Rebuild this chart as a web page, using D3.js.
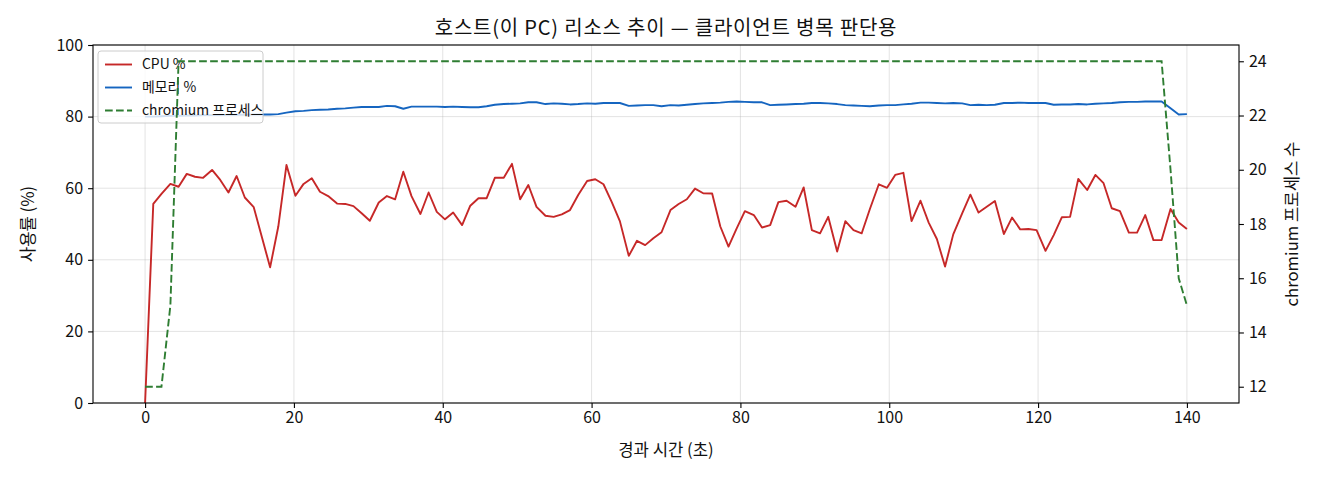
<!DOCTYPE html>
<html>
<head>
<meta charset="utf-8">
<script src="https://cdn.jsdelivr.net/npm/d3@7"></script>
<style>
  body { margin: 0; background: #fff; }
  svg text { font-family: "Noto Sans CJK KR", "Noto Sans", sans-serif; fill: #111; }
</style>
</head>
<body>
<div id="chart"></div>
<script>
// elapsed seconds per sample (10 per row)
let elapsed = [
  0, 1.1, 2.2, 3.4, 4.5, 5.6, 6.7, 7.8, 9.0, 10.1,
  11.2, 12.3, 13.4, 14.6, 15.7, 16.8, 17.9, 19.0, 20.2, 21.3,
  22.4, 23.5, 24.6, 25.8, 26.9, 28.0, 29.1, 30.2, 31.4, 32.5,
  33.6, 34.7, 35.8, 37.0, 38.1, 39.2, 40.3, 41.4, 42.6, 43.7,
  44.8, 45.9, 47.0, 48.2, 49.3, 50.4, 51.5, 52.6, 53.8, 54.9,
  56.0, 57.1, 58.2, 59.4, 60.5, 61.6, 62.7, 63.8, 65.0, 66.1,
  67.2, 68.3, 69.4, 70.6, 71.7, 72.8, 73.9, 75.0, 76.2, 77.3,
  78.4, 79.5, 80.6, 81.8, 82.9, 84.0, 85.1, 86.2, 87.4, 88.5,
  89.6, 90.7, 91.8, 93.0, 94.1, 95.2, 96.3, 97.4, 98.6, 99.7,
  100.8, 101.9, 103.0, 104.2, 105.3, 106.4, 107.5, 108.6, 109.8, 110.9,
  112.0, 113.1, 114.2, 115.4, 116.5, 117.6, 118.7, 119.8, 121.0, 122.1,
  123.2, 124.3, 125.4, 126.6, 127.7, 128.8, 129.9, 131.0, 132.2, 133.3,
  134.4, 135.5, 136.6, 137.8, 138.9, 140.0]

let cpuPct = [
  0, 55.6, 58.4, 61.2, 60.4, 64.0, 63.2, 62.9, 65.1, 62.3,
  58.8, 63.4, 57.4, 54.7, 46.3, 37.9, 49.3, 66.5, 57.9, 61.2,
  62.8, 59.0, 57.8, 55.7, 55.6, 55.0, 53.0, 50.9, 56.0, 57.8,
  56.9, 64.6, 57.8, 52.8, 58.8, 53.4, 51.3, 53.2, 49.7, 55.1,
  57.2, 57.2, 62.9, 62.9, 66.8, 56.9, 60.9, 54.8, 52.3, 52.0,
  52.7, 53.9, 58.1, 62.0, 62.5, 61.1, 56.2, 50.8, 41.1, 45.3,
  44.1, 46.0, 47.7, 53.9, 55.6, 56.9, 59.9, 58.6, 58.5, 49.3,
  43.7, 48.8, 53.6, 52.5, 49.0, 49.7, 56.1, 56.5, 54.8, 60.2,
  48.3, 47.4, 52.0, 42.3, 50.8, 48.3, 47.4, 54.2, 61.1, 60.1,
  63.7, 64.3, 50.8, 56.5, 50.4, 45.8, 38.1, 47.1, 53.0, 58.2,
  53.2, 54.8, 56.4, 47.2, 51.8, 48.5, 48.6, 48.3, 42.5, 46.9,
  51.9, 52.0, 62.6, 59.5, 63.7, 61.4, 54.4, 53.6, 47.6, 47.6,
  52.5, 45.5, 45.5, 54.2, 50.4, 48.6]

let memPct = [
  80.0, 80.0, 80.1, 80.2, 80.2, 80.3, 80.3, 80.4, 80.4, 80.4,
  80.5, 80.5, 80.5, 80.6, 80.6, 80.6, 80.7, 81.1, 81.5, 81.6,
  81.8, 81.9, 82.0, 82.2, 82.3, 82.5, 82.7, 82.7, 82.7, 83.0,
  82.9, 82.2, 82.8, 82.8, 82.8, 82.8, 82.7, 82.8, 82.7, 82.6,
  82.6, 82.9, 83.3, 83.5, 83.6, 83.7, 84.0, 84.0, 83.5, 83.7,
  83.6, 83.4, 83.5, 83.7, 83.6, 83.8, 83.8, 83.8, 83.0, 83.1,
  83.2, 83.2, 82.9, 83.2, 83.1, 83.3, 83.5, 83.7, 83.8, 83.9,
  84.1, 84.2, 84.1, 84.0, 84.0, 83.2, 83.3, 83.4, 83.5, 83.6,
  83.8, 83.8, 83.7, 83.5, 83.2, 83.1, 83.0, 82.9, 83.1, 83.2,
  83.2, 83.4, 83.6, 83.9, 83.9, 83.8, 83.7, 83.8, 83.7, 83.2,
  83.3, 83.2, 83.3, 83.8, 83.8, 83.9, 83.8, 83.8, 83.8, 83.3,
  83.4, 83.4, 83.5, 83.4, 83.6, 83.7, 83.8, 84.0, 84.1, 84.1,
  84.2, 84.2, 84.2, 82.3, 80.6, 80.7]

let chromiumProcs = [
  12, 12, 12, 15, 24, 24, 24, 24, 24, 24,
  24, 24, 24, 24, 24, 24, 24, 24, 24, 24,
  24, 24, 24, 24, 24, 24, 24, 24, 24, 24,
  24, 24, 24, 24, 24, 24, 24, 24, 24, 24,
  24, 24, 24, 24, 24, 24, 24, 24, 24, 24,
  24, 24, 24, 24, 24, 24, 24, 24, 24, 24,
  24, 24, 24, 24, 24, 24, 24, 24, 24, 24,
  24, 24, 24, 24, 24, 24, 24, 24, 24, 24,
  24, 24, 24, 24, 24, 24, 24, 24, 24, 24,
  24, 24, 24, 24, 24, 24, 24, 24, 24, 24,
  24, 24, 24, 24, 24, 24, 24, 24, 24, 24,
  24, 24, 24, 24, 24, 24, 24, 24, 24, 24,
  24, 24, 24, 20, 16, 15]

let seriesNames = ['CPU %', '메모리 %', 'chromium 프로세스']
let xTicks = [0, 20, 40, 60, 80, 100, 120, 140]
let leftTicks = [0, 20, 40, 60, 80, 100]
let rightTicks = [12, 14, 16, 18, 20, 22, 24]

let width = 1320,
  height = 480,
  margin = {top: 45, right: 81, bottom: 77, left: 93},
  plotW = width - margin.left - margin.right,
  plotH = height - margin.top - margin.bottom,
  tickLen = 4.9,
  colors = ['#c62828', '#1565c0', '#2e7d32']

// matplotlib style 5% padding
function padded(ext) {
  let p = (ext[1] - ext[0]) * 0.05
  return [ext[0] - p, ext[1] + p]
}

let x = d3.scaleLinear()
  .domain(padded(d3.extent(elapsed)))
  .range([margin.left, margin.left + plotW])

let yL = d3.scaleLinear()
  .domain([0, 100])
  .range([margin.top + plotH, margin.top])

let yR = d3.scaleLinear()
  .domain(padded(d3.extent(chromiumProcs)))
  .range([margin.top + plotH, margin.top])

let svg = d3.select('#chart').append('svg')
  .attr('width', width)
  .attr('height', height)

// grid
let grid = svg.append('g')
  .attr('stroke', '#b0b0b0')
  .attr('stroke-opacity', 0.35)
  .attr('stroke-width', 1)

grid.selectAll('.vgrid')
  .data(xTicks)
  .enter().append('line')
  .attr('x1', function (d) { return x(d) })
  .attr('x2', function (d) { return x(d) })
  .attr('y1', margin.top)
  .attr('y2', margin.top + plotH)

grid.selectAll('.hgrid')
  .data(leftTicks)
  .enter().append('line')
  .attr('x1', margin.left)
  .attr('x2', margin.left + plotW)
  .attr('y1', function (d) { return yL(d) })
  .attr('y2', function (d) { return yL(d) })

svg.append('defs').append('clipPath')
  .attr('id', 'plot-clip')
  .append('rect')
  .attr('x', margin.left)
  .attr('y', margin.top)
  .attr('width', plotW)
  .attr('height', plotH)

let lineL = d3.line()
  .x(function (d, i) { return x(elapsed[i]) })
  .y(function (d) { return yL(d) })

let lines = svg.append('g').attr('clip-path', 'url(#plot-clip)')

lines.selectAll('.left-line')
  .data([cpuPct, memPct])
  .enter().append('path')
  .attr('d', function (d) { return lineL(d) })
  .attr('fill', 'none')
  .attr('stroke', function (d, i) { return colors[i] })
  .attr('stroke-width', 1.9)
  .attr('stroke-linejoin', 'round')

// legend sits under the twin-axis line, like matplotlib
let legend = svg.append('g')
  .attr('transform', 'translate(98,51)')

legend.append('rect')
  .attr('width', 165)
  .attr('height', 72)
  .attr('rx', 3)
  .attr('fill', '#fff')
  .attr('fill-opacity', 0.8)
  .attr('stroke', '#cccccc')
  .attr('stroke-width', 1)

let legendItems = legend.selectAll('.legend-item')
  .data(seriesNames)
  .enter().append('g')
  .attr('transform', function (d, i) { return 'translate(0,' + (13.5 + i * 23) + ')' })

legendItems.append('line')
  .attr('x1', 7)
  .attr('x2', 34)
  .attr('stroke', function (d, i) { return colors[i] })
  .attr('stroke-width', 1.9)
  .attr('stroke-dasharray', function (d, i) { return i === 2 ? '7.7,3.3' : null })

legendItems.append('text')
  .text(function (d) { return d })
  .attr('x', 44)
  .attr('dy', '0.35em')
  .style('font-size', '13.9px')

let lineR = d3.line()
  .x(function (d, i) { return x(elapsed[i]) })
  .y(function (d) { return yR(d) })

svg.append('path')
  .attr('clip-path', 'url(#plot-clip)')
  .attr('d', lineR(chromiumProcs))
  .attr('fill', 'none')
  .attr('stroke', colors[2])
  .attr('stroke-width', 1.9)
  .attr('stroke-dasharray', '7.7,3.3')

// frame
svg.append('rect')
  .attr('x', margin.left)
  .attr('y', margin.top)
  .attr('width', plotW)
  .attr('height', plotH)
  .attr('fill', 'none')
  .attr('stroke', '#000')
  .attr('stroke-width', 1.1)

// axes
svg.append('g')
  .attr('transform', 'translate(0,' + (margin.top + plotH) + ')')
  .call(d3.axisBottom(x).tickValues(xTicks).tickSize(tickLen).tickPadding(4))

svg.append('g')
  .attr('transform', 'translate(' + margin.left + ',0)')
  .call(d3.axisLeft(yL).tickValues(leftTicks).tickSize(tickLen).tickPadding(5))

svg.append('g')
  .attr('transform', 'translate(' + (margin.left + plotW) + ',0)')
  .call(d3.axisRight(yR).tickValues(rightTicks).tickSize(tickLen).tickPadding(5))

svg.selectAll('.domain').remove()
svg.selectAll('.tick line').attr('stroke', '#000').attr('stroke-width', 1.1)
svg.selectAll('.tick text')
  .style('font-size', '16px')
  .style('font-family', '"Noto Sans CJK KR", "Noto Sans", sans-serif')
  .attr('fill', '#111')

// labels
svg.append('text')
  .text('호스트(이 PC) 리소스 추이 — 클라이언트 병목 판단용')
  .attr('x', margin.left + plotW / 2)
  .attr('y', 35)
  .attr('text-anchor', 'middle')
  .style('font-size', '20px')
  .style('letter-spacing', '0.8px')

svg.append('text')
  .text('경과 시간 (초)')
  .attr('x', margin.left + plotW / 2)
  .attr('y', 456)
  .attr('text-anchor', 'middle')
  .style('font-size', '16.7px')

svg.append('text')
  .text('사용률 (%)')
  .attr('transform', 'translate(28,' + (margin.top + plotH / 2) + ') rotate(-90)')
  .attr('text-anchor', 'middle')
  .attr('dy', '0.35em')
  .style('font-size', '16.7px')

svg.append('text')
  .text('chromium 프로세스 수')
  .attr('transform', 'translate(1292,' + (margin.top + plotH / 2) + ') rotate(-90)')
  .attr('text-anchor', 'middle')
  .attr('dy', '0.35em')
  .style('font-size', '16.7px')
</script>
</body>
</html>
